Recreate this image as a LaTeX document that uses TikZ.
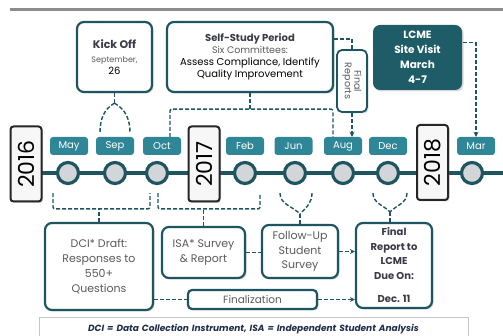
\documentclass[tikz,border=0pt]{standalone}
\usepackage{fontspec}
\setmainfont{Poppins}
\usetikzlibrary{shapes,arrows.meta,shadows}
\definecolor{tealdark}{HTML}{1F5561}
\definecolor{tealmid}{HTML}{2F8696}
\definecolor{tealbox}{HTML}{1E5C68}
\definecolor{txtgray}{HTML}{5A5A5A}
\definecolor{txtdark}{HTML}{3A3A48}
\definecolor{dotfill}{HTML}{D3D6D8}
\definecolor{navy}{HTML}{1F2D4A}

\begin{document}
\begin{tikzpicture}[x=1pt,y=-1pt]
\tikzstyle{card}=[
	rectangle,
	rounded corners=7pt,
	draw=tealdark, line width=2.2pt,
	fill=white, align=center, inner sep=1pt,
	drop shadow={shadow xshift=1.5pt,shadow yshift=-1.5pt,opacity=0.3} ]
\tikzstyle{month}=[rectangle, rounded corners=3pt, fill=tealmid, text=white,
	minimum width=38pt, minimum height=18pt, inner sep=0pt, font=\fontsize{10}{12}\selectfont]
\tikzstyle{dot}=[circle, draw=tealdark, line width=3.2pt, fill=dotfill, minimum size=21pt, inner sep=0pt]
\tikzstyle{year}=[rectangle, rounded corners=3pt, draw=black!85, line width=2pt, fill=gray!6,
	rotate=90, minimum width=75pt, minimum height=31pt, inner sep=0pt,
	font=\fontsize{22}{22}\selectfont,
	drop shadow={shadow xshift=1.5pt,shadow yshift=-1.5pt,opacity=0.3}]
\tikzstyle{conn}=[draw=tealdark, line width=1.4pt, dash pattern=on 4pt off 2pt]
\tikzstyle{tip}=[-{Stealth[length=5pt,width=5pt]}]

\useasboundingbox (0,0) rectangle (503,336);
\draw[line width=3pt, gray!90] (10,10) -- (503,10);
\draw[line width=4.5pt, tealdark] (40,173) -- (503,173);

\node[year] (y2016) at (26,164) {2016};
\node[year] (y2017) at (204,164) {2017};
\node[year] (y2018) at (432.5,162.5) {2018};

\node[month] (mmay) at (69,146) {May};
\node[month] (msep) at (115,146) {Sep};
\node[month] (moct) at (162,146) {Oct};
\node[month] (mfeb) at (245,146) {Feb};
\node[month] (mjun) at (293.5,146) {Jun};
\node[month] (maug) at (343,146) {Aug};
\node[month] (mdec) at (388,146) {Dec};
\node[month] (mmar) at (476,146) {Mar};

\node[dot] (dmay) at (68,173) {};
\node[dot] (dsep) at (115,173) {};
\node[dot] (doct) at (157,173) {};
\node[dot] (dfeb) at (245,173) {};
\node[dot] (djun) at (295,173) {};
\node[dot] (daug) at (343,173) {};
\node[dot] (ddec) at (388,173) {};
\node[dot] (dmar) at (472,173) {};

\node[card, minimum width=75pt, minimum height=70pt] (kick) at (114.5,57)
	{\color{txtdark}\fontsize{11}{13}\selectfont\bfseries Kick Off\\[2pt]
	\color{txtgray}\fontsize{8}{10}\selectfont\mdseries September,\\26};
\node[card, minimum width=166pt, minimum height=70pt] (self) at (250,57)
	{\color{txtdark}\fontsize{10}{14}\selectfont\bfseries Self-Study Period\\
	\color{txtgray}\fontsize{9.5}{14}\selectfont\mdseries Six Committees:\\
	Assess Compliance, Identify\\Quality Improvement};
\node[card, rounded corners=5pt, line width=1.8pt, minimum width=30pt, minimum height=62pt,
	text=txtgray, font=\fontsize{9.5}{11}\selectfont] (freports) at (352,81)
	{\rotatebox{-90}{\shortstack{Final\\Reports}}};
\node[card, draw=none, fill=tealbox, text=white, minimum width=89pt, minimum height=65pt,
	font=\fontsize{10.5}{15}\selectfont\bfseries] (lcme) at (417.5,57.5)
	{LCME\\Site Visit\\March\\4-7};

\node[card, minimum width=108pt, minimum height=87pt, text=txtgray,
	font=\fontsize{11}{15}\selectfont] (dci) at (99,266.5)
	{DCI* Draft:\\Responses to\\550+\\Questions};
\node[card, minimum width=83pt, minimum height=51pt, text=txtgray,
	font=\fontsize{11}{15}\selectfont] (isa) at (203.5,252.5)
	{ISA* Survey\\\& Report};
\node[card, minimum width=76pt, minimum height=53pt, text=txtgray,
	font=\fontsize{11}{14.5}\selectfont] (follow) at (300,251.5)
	{Follow-Up\\Student\\Survey};
\node[card, minimum width=76pt, minimum height=85pt, text=txtdark,
	font=\fontsize{10}{14.5}\selectfont\bfseries] (final) at (394,265.5)
	{Final\\Report to\\LCME\\Due On:\\[9pt]Dec. 11};
\node[card, rounded corners=4pt, minimum width=129pt, minimum height=19pt, text=txtgray,
	font=\fontsize{10.5}{12}\selectfont] (finz) at (252.5,299.5) {Finalization};

\node[draw=gray!45, line width=0.8pt, fill=white, anchor=north, minimum width=429pt,
	minimum height=24pt, text width=420pt, align=center, text=navy,
	font=\fontsize{9}{10}\selectfont\bfseries\itshape]
	(legend) at (253.5,317)
	{DCI = Data Collection Instrument, ISA = Independent Student Analysis};

\coordinate (kj) at ([yshift=-10pt]kick.south);
\draw[conn] (kick.south) -- (kj);
\draw[conn] (kj) to[out=-150,in=90] ([xshift=-15pt,yshift=4pt]msep.north);
\draw[conn] (kj) to[out=-30,in=90] ([xshift=15pt,yshift=4pt]msep.north);

\draw[conn] (self.south) -- ++(0pt,-16pt);
\draw[conn, rounded corners=2pt] ([xshift=8pt]moct.north) |- ([yshift=-16pt]self.south)
	-| ([xshift=-10pt]maug.north);
\draw[conn] ([yshift=18pt]self.east) -| (freports.north);
\draw[conn, tip] (freports.south) -- (freports.south |- maug.north);
\draw[conn, tip] ([yshift=15pt]lcme.east) -| (mmar.north);

\draw[conn] (dci.north) -- ++(0pt,13pt);
\draw[conn, rounded corners=2pt] ([xshift=-15pt,yshift=-8pt]dmay.south) |- ([yshift=13pt]dci.north)
	-| ([xshift=-7pt,yshift=-8pt]doct.south);
\draw[conn] (isa.north) -- ++(0pt,17pt);
\draw[conn, rounded corners=2pt] ([xshift=1pt,yshift=-8pt]doct.south) |- ([yshift=17pt]isa.north)
	-| ([xshift=15pt,yshift=-8pt]dfeb.south);

\coordinate (jj) at ([yshift=10pt]follow.north);
\draw[conn] ([xshift=-15pt,yshift=-8pt]djun.south) to[out=-90,in=135] (jj);
\draw[conn] ([xshift=17pt,yshift=-8pt]djun.south) to[out=-90,in=45] (jj);
\draw[conn] (jj) -- (follow.north);
\coordinate (fj) at ([xshift=-4pt,yshift=10pt]final.north);
\draw[conn] ([xshift=-15pt,yshift=-8pt]ddec.south) to[out=-90,in=135] (fj);
\draw[conn] ([xshift=19pt,yshift=-8pt]ddec.south) to[out=-90,in=45] (fj);
\draw[conn] (fj) -- (fj |- final.north);

\draw[conn] (isa.east) -- (isa.east -| follow.west);
\draw[conn, tip] (follow.east) -- (follow.east -| final.west);
\draw[conn] (finz.west -| dci.east) -- (finz.west);
\draw[conn, tip] (finz.east) -- (finz.east -| final.west);
\end{tikzpicture}
\end{document}
